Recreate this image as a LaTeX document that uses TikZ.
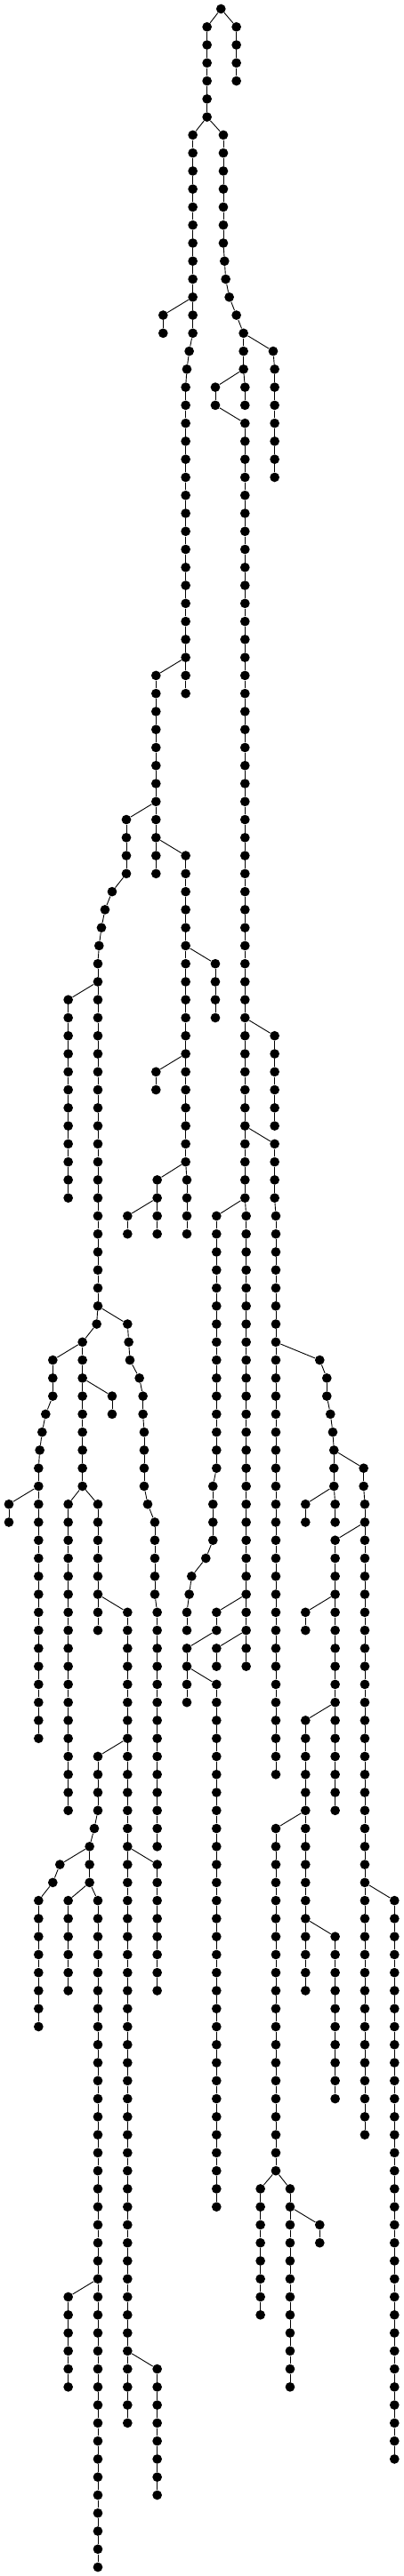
\documentclass[tikz,border=0pt]{standalone}
\usepackage{tikz}
\usetikzlibrary{positioning}

\tikzset{
  dotnode/.style={circle, fill=black, inner sep=0pt, minimum size=5.35pt},
  treeline/.style={line width=0.45pt}
}

% a straight run of dots: name, x, first level, last level
\newcommand{\vrun}[4]{\foreach \l in {#3,...,#4} {\node[dotnode] (#1-\l) at (#2,-\l) {};}}
% dots placed one by one: name, list level/x
\newcommand{\bend}[2]{\foreach \l/\x in {#2} {\node[dotnode] (#1-\l) at (\x,-\l) {};}}
% join the dots of one chain: name, first level, last level
\newcommand{\links}[3]{\pgfmathtruncatemacro{\linkstart}{#2+1}%
  \foreach \l [evaluate=\l as \p using int(\l-1)] in {\linkstart,...,#3} {\draw[treeline] (#1-\p) -- (#1-\l);}}

\begin{document}
\begin{tikzpicture}[x=16.667pt, y=10.135pt]
  \useasboundingbox (-0.3,0.4933) rectangle (13.32,-142.493);

  % top
  \bend{root}{0/7.15}
  \vrun{ra}{7.67}{1}{4}
  \vrun{tr}{6.68}{1}{6}
  % left arm
  \vrun{a}{6.20}{7}{18}
  \bend{a}{19/6.08, 20/6.00}
  \vrun{a}{5.96}{21}{38}
  \vrun{a1}{5.20}{17}{18}
  % right arm
  \vrun{b}{7.23}{7}{13}
  \bend{b}{14/7.27, 15/7.31, 16/7.43, 17/7.67, 18/7.91, 19/7.91, 20/7.91, 21/7.96, 22/7.96}
  \bend{b1}{19/8.91}
  \vrun{b1}{8.96}{20}{26}
  \vrun{b2}{6.96}{21}{22}
  % long middle column
  \vrun{c}{7.96}{23}{66}
  \vrun{c}{8.00}{67}{92}
  \vrun{c1}{8.96}{57}{62}
  \vrun{c2}{7.00}{89}{90}
  \vrun{c3}{6.00}{91}{94}
  \vrun{c4}{7.00}{91}{92}
  \vrun{c5}{7.00}{93}{122}
  % right part
  \vrun{k}{8.96}{63}{66}
  \vrun{k}{9.00}{67}{98}
  \bend{k1}{75/10.48, 76/10.72, 77/10.72, 78/10.84, 79/10.92, 80/10.96, 81/10.96, 82/10.96, 83/11.00, 84/11.00}
  \bend{k2}{81/11.96, 82/11.96}
  \vrun{k2}{12.00}{83}{118}
  \vrun{k3}{10.00}{83}{84}
  \vrun{k4}{11.00}{85}{100}
  \vrun{k5}{10.00}{89}{90}
  \vrun{k6}{10.00}{95}{110}
  \vrun{k7}{9.00}{101}{120}
  \vrun{k8}{11.00}{107}{116}
  \vrun{k9}{13.00}{105}{136}
  \vrun{k10}{8.48}{121}{128}
  \vrun{k11}{9.48}{121}{132}
  \vrun{k12}{10.48}{123}{124}
  \vrun{m}{7.00}{67}{81}
  \bend{m}{82/6.88, 83/6.88, 84/6.88, 85/6.88, 86/6.64, 87/6.16, 88/6.08, 89/6.00, 90/6.00}
  % below the left arm
  \vrun{d}{4.96}{37}{48}
  \vrun{p}{5.96}{47}{64}
  \vrun{p}{6.00}{65}{68}
  \vrun{p1}{6.96}{53}{56}
  \vrun{p2}{4.96}{59}{60}
  \vrun{p3}{5.00}{65}{68}
  \vrun{p4}{4.00}{67}{68}
  % left part
  \vrun{e}{3.96}{45}{48}
  \bend{e}{49/3.48, 50/3.24, 51/3.12, 52/3.04}
  \vrun{e}{3.00}{53}{72}
  \bend{e}{73/2.96}
  \vrun{e}{2.48}{74}{82}
  \vrun{e1}{2.00}{55}{66}
  \bend{e2}{73/4.00, 74/4.04, 75/4.08, 76/4.40, 77/4.52, 78/4.52, 79/4.56, 80/4.56, 81/4.56, 82/4.56, 83/4.68}
  \vrun{e2}{4.92}{84}{88}
  \vrun{e2}{5.00}{89}{102}
  \bend{e3}{75/1.48, 76/1.48, 77/1.48, 78/1.24, 79/1.12, 80/1.04}
  \vrun{e3}{1.00}{81}{96}
  \vrun{e4}{3.48}{77}{78}
  \vrun{e5}{0.00}{83}{84}
  \vrun{f}{2.00}{83}{100}
  \vrun{g}{3.00}{83}{90}
  \vrun{h}{4.00}{89}{134}
  \bend{h1}{97/3.00, 98/3.00, 99/3.00, 100/3.00, 101/2.88, 102/2.72, 103/2.72, 104/2.72}
  \bend{h2}{103/1.72, 104/1.48}
  \vrun{h2}{1.00}{105}{112}
  \vrun{h3}{2.00}{105}{110}
  \vrun{h4}{3.00}{105}{142}
  \vrun{h5}{2.00}{127}{132}
  \vrun{h6}{5.00}{103}{110}
  \vrun{h7}{5.00}{131}{138}

  % chains
  \foreach \n/\s/\t in {ra/1/4, tr/1/6, a/7/38, a1/17/18, b/7/22, b1/19/26, b2/21/22,
      c/23/92, c1/57/62, c2/89/90, c3/91/94, c4/91/92, c5/93/122,
      k/63/98, k1/75/84, k2/81/118, k3/83/84, k4/85/100, k5/89/90, k6/95/110,
      k7/101/120, k8/107/116, k9/105/136, k10/121/128, k11/121/132, k12/123/124,
      m/67/90, d/37/48, p/47/68, p1/53/56, p2/59/60, p3/65/68, p4/67/68,
      e/45/82, e1/55/66, e2/73/102, e3/75/96, e4/77/78, e5/83/84, f/83/100, g/83/90,
      h/89/134, h1/97/104, h2/103/112, h3/105/110, h4/105/142, h5/127/132,
      h6/103/110, h7/131/138}
    {\links{\n}{\s}{\t}}

  % branchings
  \foreach \u/\v in {root-0/ra-1, root-0/tr-1, tr-6/a-7, tr-6/b-7, a-16/a1-17,
      b-18/b1-19, b-20/b2-21, b2-22/c-23, a-36/d-37, d-44/e-45, d-46/p-47,
      p-52/p1-53, p-58/p2-59, p-64/p3-65, p3-66/p4-67, c-56/c1-57, c-62/k-63,
      c-66/m-67, c-88/c2-89, c2-90/c3-91, c-90/c4-91, c3-92/c5-93,
      k-74/k1-75, k1-80/k2-81, k1-82/k3-83, k2-84/k4-85, k4-88/k5-89,
      k4-94/k6-95, k6-100/k7-101, k6-106/k8-107, k2-104/k9-105,
      k7-120/k10-121, k7-120/k11-121, k11-122/k12-123,
      e-54/e1-55, e-72/e2-73, e-74/e3-75, e-76/e4-77, e3-82/e5-83,
      e-82/f-83, e-82/g-83, g-88/h-89, h-96/h1-97, h1-102/h2-103,
      h1-104/h3-105, h1-104/h4-105, h4-126/h5-127, h-102/h6-103, h-130/h7-131}
    {\draw[treeline] (\u) -- (\v);}
\end{tikzpicture}
\end{document}
